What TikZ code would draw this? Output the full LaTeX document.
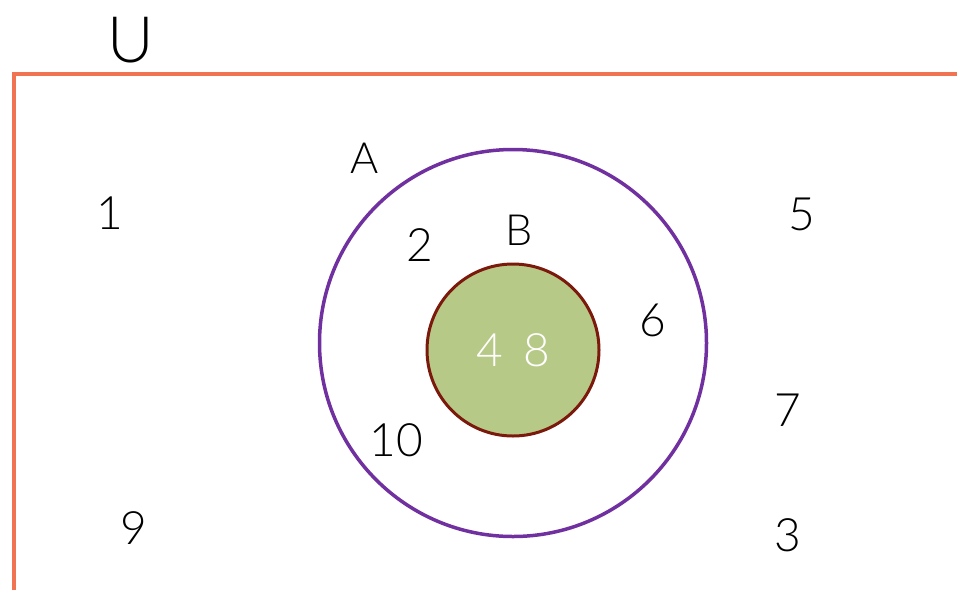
\documentclass[tikz,border=0pt]{standalone}
\usepackage{fontspec}
\setmainfont{Lato}[UprightFont=* Light]
\usepackage{tikz}
\definecolor{framecol}{HTML}{F07352}
\definecolor{setAcol}{HTML}{7030A0}
\definecolor{setBcol}{HTML}{7B1A0C}
\definecolor{setBfill}{HTML}{B7C986}
\tikzset{
  elem/.style={inner sep=0pt,font=\fontsize{46}{50}\selectfont},
  setname/.style={inner sep=0pt,font=\fontsize{43}{47}\selectfont},
}

\begin{document}
\begin{tikzpicture}[x=1pt,y=-1pt]
    \useasboundingbox (0,0) rectangle (957,590);
    % universe
    \draw[framecol,line width=3.5pt] (14,590) -- (14,74) -- (957,74);
    \node[inner sep=0pt,font=\fontsize{64}{68}\selectfont] (labU) at (131,40) {U};
    % sets
    \node[circle,draw=setAcol,line width=3.5pt,minimum size=387pt,inner sep=0pt] (setA) at (513,343) {};
    \node[circle,draw=setBcol,fill=setBfill,line width=3pt,minimum size=172pt,inner sep=0pt] (setB) at (513,350) {};
    \node[setname] (labA) at (365,158) {A};
    \node[setname] (labB) at (519,230) {B};
    % elements
    \node[elem] (n1) at (110,213) {1};
    \node[elem] (n2) at (420,245) {2};
    \node[elem] (n3) at (788,535) {3};
    \node[elem,white] (n4) at (490,350) {4};
    \node[elem] (n5) at (802,214) {5};
    \node[elem] (n6) at (653,320) {6};
    \node[elem] (n7) at (788,410) {7};
    \node[elem,white] (n8) at (537,350) {8};
    \node[elem] (n9) at (134,528) {9};
    \node[elem] (n10) at (396,440) {10};
  \end{tikzpicture}
\end{document}
